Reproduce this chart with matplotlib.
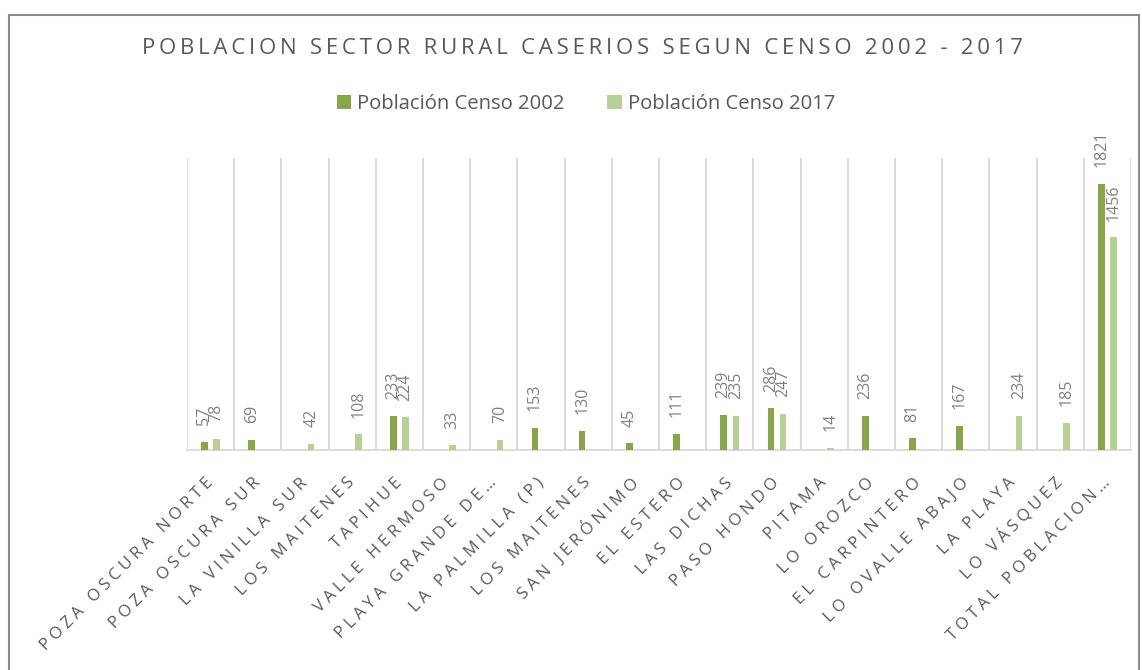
import numpy as np
import matplotlib
matplotlib.use("Agg")
import matplotlib.pyplot as plt
from matplotlib.patches import Patch, Rectangle

categories = ["POZA OSCURA NORTE", "POZA OSCURA SUR", "LA VINILLA SUR", "LOS MAITENES",
              "TAPIHUE", "VALLE HERMOSO", "PLAYA GRANDE DE…", "LA PALMILLA (P)",
              "LOS MAITENES", "SAN JERÓNIMO", "EL ESTERO", "LAS DICHAS", "PASO HONDO",
              "PITAMA", "LO OROZCO", "EL CARPINTERO", "LO OVALLE ABAJO", "LA PLAYA",
              "LO VÁSQUEZ", "TOTAL POBLACION…"]
nan = np.nan
censo_2002 = [57, 69, nan, nan, 233, nan, nan, 153, 130, 45, 111, 239, 286, nan,
              236, 81, 167, nan, nan, 1821]
censo_2017 = [78, nan, 42, 108, 224, 33, 70, nan, nan, nan, nan, 235, 247, 14,
              nan, nan, nan, 234, 185, 1456]
series_names = ["Población Censo 2002", "Población Censo 2017"]

C1 = "#89A54B"
C2 = "#B8CF96"
TXT = "#595959"
LBL = "#808080"
FONTS = ["Open Sans", "DejaVu Sans"]

def spaced(s, sep):
    return sep.join(list(s))

fig = plt.figure(figsize=(11.42, 6.70), dpi=100)
W, H = 1142, 670
ax = fig.add_axes([187 / W, 1 - 450 / H, (1131 - 187) / W, (450 - 158) / H])

x = np.arange(len(categories))
off, bw = 0.13, 0.14
ax.bar(x - off, censo_2002, width=bw, color=C1, zorder=3)
ax.bar(x + off, censo_2017, width=bw, color=C2, zorder=3)

for xs, vals in ((x - off, censo_2002), (x + off, censo_2017)):
    for xi, v in zip(xs, vals):
        if np.isnan(v):
            continue
        ax.annotate(f"{int(v)}", (xi, v), xytext=(0, 12), textcoords="offset points",
                    ha="center", va="bottom", rotation=90, color=LBL,
                    fontsize=11.5, family=FONTS, zorder=4)

ax.set_xlim(-0.5, len(categories) - 0.5)
ax.set_ylim(0, 2000)
ax.set_yticks([])
ax.set_xticks(x)
ax.set_xticklabels([spaced(c, "\u2005") for c in categories], rotation=45,
                   ha="right", va="center", rotation_mode="anchor",
                   fontsize=12, color=TXT, family=FONTS)
ax.set_xticks(np.arange(-0.5, len(categories)), minor=True)
ax.tick_params(axis="x", which="major", length=0, pad=22)
ax.tick_params(axis="x", which="minor", length=0)
ax.grid(axis="x", which="minor", color="#D9D9D9", lw=1.3, zorder=0)
for s in ("top", "left", "right"):
    ax.spines[s].set_visible(False)
ax.spines["bottom"].set_color("#D9D9D9")
ax.spines["bottom"].set_linewidth(1.3)

fig.text(582 / W, 1 - 48 / H, spaced("POBLACION SECTOR RURAL CASERIOS SEGUN CENSO 2002 - 2017", "\u2009"),
         ha="center", va="center", fontsize=16, color=TXT, family=FONTS)

handles = [Patch(facecolor=C1, edgecolor="none"), Patch(facecolor=C2, edgecolor="none")]
fig.legend(handles, series_names, loc="center", bbox_to_anchor=(586 / W, 1 - 104 / H),
           ncol=2, frameon=False, handlelength=0.7, handleheight=0.7, handletextpad=0.3,
           columnspacing=2.1, prop={"family": FONTS, "size": 14.6}, labelcolor=TXT)

fig.patches.append(Rectangle((9 / W, -0.01), (1139 - 9) / W, (1 - 15 / H) + 0.01,
                             transform=fig.transFigure, fill=False, edgecolor="#8C8C8C", lw=1.5))

fig.savefig("out.png", dpi=100)
